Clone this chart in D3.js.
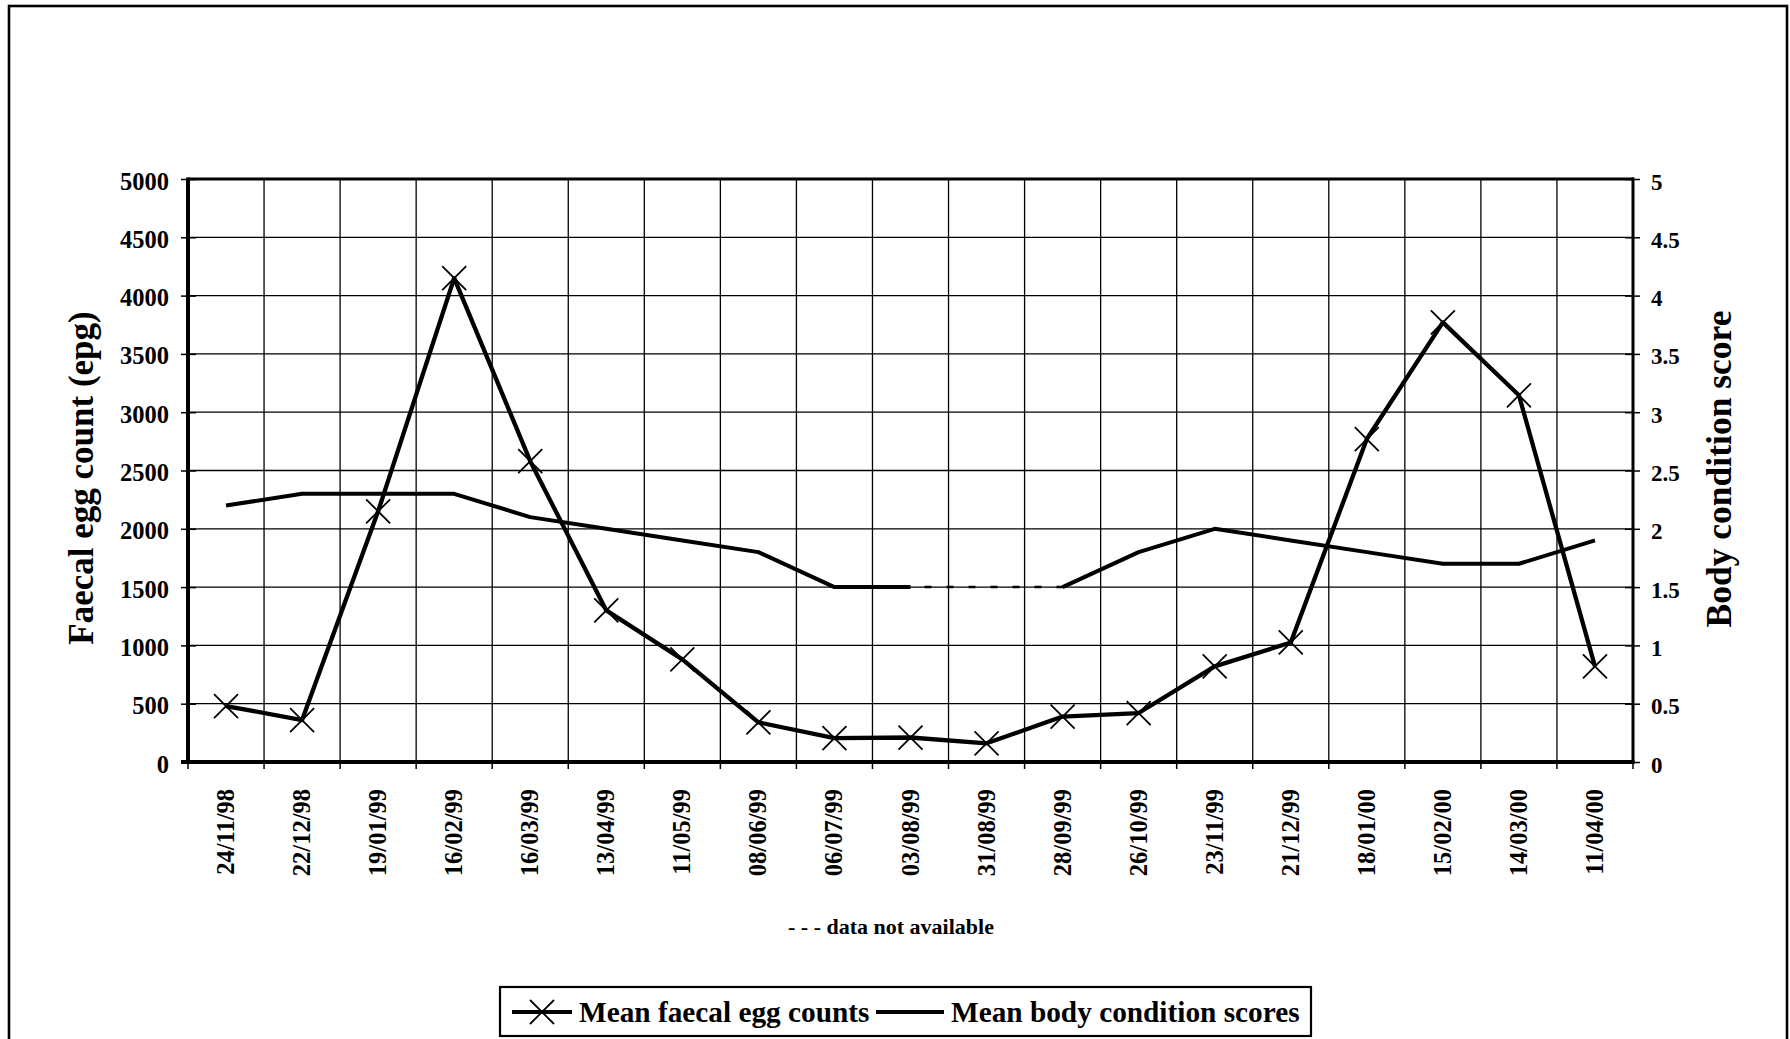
<!DOCTYPE html>
<html><head><meta charset="utf-8">
<script src="https://cdn.jsdelivr.net/npm/d3@7"></script>
<style>
body{margin:0;background:#fff}
svg{display:block}
text{font-family:"Liberation Serif","Times New Roman",serif;font-weight:bold;fill:#000}
</style>
</head><body>
<svg id="c" width="1790" height="1039"></svg>
<script>
const dates = ["24/11/98","22/12/98","19/01/99","16/02/99","16/03/99","13/04/99","11/05/99","08/06/99","06/07/99","03/08/99","31/08/99","28/09/99","26/10/99","23/11/99","21/12/99","18/01/00","15/02/00","14/03/00","11/04/00"];
const eggCounts = [480,360,2150,4150,2580,1300,880,340,205,210,160,390,420,820,1025,2770,3770,3145,820];
const bodyScores = [2.2,2.3,2.3,2.3,2.1,2.0,1.9,1.8,1.5,1.5,null,1.5,1.8,2.0,1.9,1.8,1.7,1.7,1.9];
const eggTicks = [0,500,1000,1500,2000,2500,3000,3500,4000,4500,5000];
const bcsTicks = [0,0.5,1,1.5,2,2.5,3,3.5,4,4.5,5];
const leftTitle = "Faecal egg count (epg)";
const rightTitle = "Body condition score";
const noteText = "- - - data not available";
const legendLabels = ["Mean faecal egg counts","Mean body condition scores"];

const svg = d3.select("#c");
const L = 188, R = 1633, T = 179, B = 762;

const x = d3.scaleBand().domain(dates).range([L, R]).paddingInner(0).paddingOuter(0);
const cx = d => x(d) + x.bandwidth() / 2;
const yL = d3.scaleLinear().domain([0, 5000]).range([B, T]);
const yR = d3.scaleLinear().domain([0, 5]).range([B, T]);

// figure border
svg.append("rect").attr("x", 9).attr("y", 6).attr("width", 1778).attr("height", 1100)
  .attr("fill", "none").attr("stroke", "#000").attr("stroke-width", 2.6);

// grid
const g = svg.append("g");
g.selectAll(".hg").data(eggTicks).join("line")
  .attr("x1", L).attr("x2", R).attr("y1", d => yL(d)).attr("y2", d => yL(d))
  .attr("stroke", "#000").attr("stroke-width", 1.3);
const bounds = dates.map(d => x(d)).concat([R]);
g.selectAll(".vg").data(bounds).join("line")
  .attr("x1", d => d).attr("x2", d => d).attr("y1", T).attr("y2", B)
  .attr("stroke", "#000").attr("stroke-width", 1.3);

// x boundary ticks
g.selectAll(".xt").data(bounds).join("line")
  .attr("x1", d => d).attr("x2", d => d).attr("y1", B).attr("y2", B + 7)
  .attr("stroke", "#000").attr("stroke-width", 1.5);

// left axis
const ax = d3.axisLeft(yL).tickValues(eggTicks).tickSize(7).tickPadding(0).tickFormat(d3.format("d"));
const gl = svg.append("g").attr("transform", `translate(${L},0)`).call(ax);
gl.select(".domain").remove();
gl.selectAll(".tick line").attr("x1", 8).attr("x2", -7).attr("stroke", "#000").attr("stroke-width", 1.5);
gl.selectAll(".tick text").attr("x", -19).attr("dy", null).attr("y", 10)
  .style("font-size", "24.5px").attr("fill", "#000");

// right axis
const axR = d3.axisRight(yR).tickValues(bcsTicks).tickSize(7).tickFormat(d => String(d));
const gr = svg.append("g").attr("transform", `translate(${R},0)`).call(axR);
gr.select(".domain").remove();
gr.selectAll(".tick line").attr("x1", -8).attr("x2", 7).attr("stroke", "#000").attr("stroke-width", 1.5);
gr.selectAll(".tick text").attr("x", 18).attr("dy", null).attr("y", 10)
  .style("font-size", "23px").attr("fill", "#000");

// bottom axis labels
const axB = d3.axisBottom(x).tickSize(0).tickPadding(0);
const gb = svg.append("g").attr("transform", `translate(0,${B})`).call(axB);
gb.select(".domain").remove();
gb.selectAll(".tick text")
  .attr("y", 0).attr("dy", null)
  .attr("transform", "translate(8,27) rotate(-90)")
  .attr("text-anchor", "end")
  .style("font-size", "24.5px").attr("fill", "#000");

// frame lines
svg.append("line").attr("x1", L).attr("x2", R + 1).attr("y1", T).attr("y2", T).attr("stroke", "#000").attr("stroke-width", 3.2);
svg.append("line").attr("x1", L).attr("x2", L).attr("y1", T - 1.5).attr("y2", B + 2).attr("stroke", "#000").attr("stroke-width", 4);
svg.append("line").attr("x1", L - 7).attr("x2", R + 1.5).attr("y1", B).attr("y2", B).attr("stroke", "#000").attr("stroke-width", 4);
svg.append("line").attr("x1", R).attr("x2", R).attr("y1", T - 1.5).attr("y2", B + 2).attr("stroke", "#000").attr("stroke-width", 3);

// body condition line (solid where data present)
const bcData = dates.map((d, i) => ({d, v: bodyScores[i]}));
const lineR = d3.line().defined(p => p.v != null).x(p => cx(p.d)).y(p => yR(p.v));
svg.append("path").attr("d", lineR(bcData)).attr("fill", "none").attr("stroke", "#000")
  .attr("stroke-width", 4).attr("stroke-linejoin", "round");
// dashed bridge over missing data
const gaps = [];
bcData.forEach((p, i) => {
  if (p.v == null) {
    let a = i - 1, b = i + 1;
    while (a >= 0 && bcData[a].v == null) a--;
    while (b < bcData.length && bcData[b].v == null) b++;
    if (a >= 0 && b < bcData.length && !gaps.some(q => q[0] === a)) gaps.push([a, b]);
  }
});
const lineGap = d3.line().x(p => cx(p.d)).y(p => yR(p.v));
gaps.forEach(([a, b]) => {
  svg.append("path").attr("d", lineGap([bcData[a], bcData[b]])).attr("fill", "none")
    .attr("stroke", "#000").attr("stroke-width", 2.5).attr("stroke-dasharray", "7,15")
    .attr("stroke-dashoffset", -14);
});

// egg count line
const eggData = dates.map((d, i) => ({d, v: eggCounts[i]}));
const lineL = d3.line().x(p => cx(p.d)).y(p => yL(p.v));
svg.append("path").attr("d", lineL(eggData)).attr("fill", "none").attr("stroke", "#000")
  .attr("stroke-width", 4.3).attr("stroke-linejoin", "round");
const ms = 12;
const mk = svg.append("g").selectAll("g").data(eggData).join("g")
  .attr("transform", p => `translate(${cx(p.d)},${yL(p.v)})`);
mk.append("path").attr("d", `M${-ms},${-ms}L${ms},${ms}M${-ms},${ms}L${ms},${-ms}`)
  .attr("stroke", "#000").attr("stroke-width", 1.8).attr("fill", "none");

// axis titles
svg.append("text").attr("transform", "translate(93,478) rotate(-90)").attr("text-anchor", "middle")
  .style("font-size", "35px").text(leftTitle);
svg.append("text").attr("transform", "translate(1731,469) rotate(-90)").attr("text-anchor", "middle")
  .style("font-size", "35.5px").text(rightTitle);

// note
svg.append("text").attr("x", 891).attr("y", 934).attr("text-anchor", "middle")
  .style("font-size", "22px").text(noteText);

// legend
const lg = svg.append("g");
lg.append("rect").attr("x", 500).attr("y", 987).attr("width", 811).attr("height", 49)
  .attr("fill", "#fff").attr("stroke", "#000").attr("stroke-width", 2.2);
const ly = 1012;
lg.append("line").attr("x1", 512).attr("x2", 572).attr("y1", ly).attr("y2", ly).attr("stroke", "#000").attr("stroke-width", 4);
lg.append("path").attr("d", `M${542-ms},${ly-ms}L${542+ms},${ly+ms}M${542-ms},${ly+ms}L${542+ms},${ly-ms}`)
  .attr("stroke", "#000").attr("stroke-width", 1.8);
lg.append("text").attr("x", 579).attr("y", ly + 10).style("font-size", "29.3px").text(legendLabels[0]);
lg.append("line").attr("x1", 876).attr("x2", 944).attr("y1", ly).attr("y2", ly).attr("stroke", "#000").attr("stroke-width", 4);
lg.append("text").attr("x", 951).attr("y", ly + 10).style("font-size", "29.3px").text(legendLabels[1]);
</script>
</body></html>
